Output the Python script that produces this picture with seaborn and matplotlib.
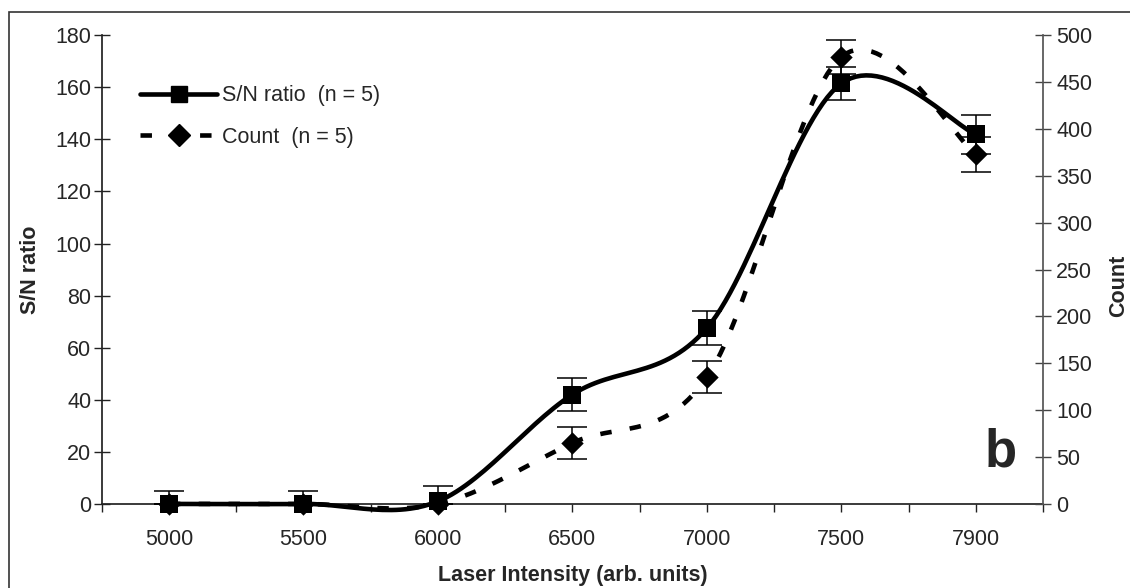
import numpy as np
import pandas as pd
import seaborn as sns
import matplotlib.pyplot as plt
from matplotlib.lines import Line2D
from matplotlib.patches import Rectangle

# valeurs
intensity = ["5000", "5500", "6000", "6500", "7000", "7500", "7900"]
sn_ratio = [0, 0, 1, 42, 67.5, 161.5, 142]
sn_err = [5, 5, 6, 6.5, 6.5, 6.3, 7.5]
count = [0, 0, 0, 65, 135, 477, 373]
count_err = [0, 0, 0, 17, 17, 18, 19]


def smooth(y, n=30):
    # courbe lissée (bezier) comme les "smoothed lines" d'Excel
    y = np.asarray(y, float)
    x = np.arange(len(y), dtype=float)
    pts = np.column_stack([x, y])
    out = []
    for i in range(len(y) - 1):
        i0 = max(i - 1, 0)
        i3 = min(i + 2, len(y) - 1)
        p0, p3 = pts[i], pts[i + 1]
        p1 = p0 + (pts[i + 1] - pts[i0]) / 6
        p2 = p3 - (pts[i3] - pts[i]) / 6
        t = np.linspace(0, 1, n)[:, None]
        out.append((1 - t) ** 3 * p0 + 3 * (1 - t) ** 2 * t * p1
                   + 3 * (1 - t) * t ** 2 * p2 + t ** 3 * p3)
    out = np.vstack(out)
    return out[:, 0], out[:, 1]


df = pd.DataFrame({"pos": np.arange(len(intensity)), "sn": sn_ratio, "count": count})

sns.set_theme(style="ticks")
plt.rcParams["font.family"] = ["Liberation Sans", "DejaVu Sans"]

fig = plt.figure(figsize=(11.3, 5.88), dpi=100)
ax = fig.add_axes([0.090, 0.143, 0.833, 0.797])
ax2 = ax.twinx()

# S/N ratio (axe gauche)
xs, ys = smooth(sn_ratio)
ax.plot(xs, ys, color="black", lw=3.3, clip_on=False, zorder=3)
ax.errorbar(df["pos"], df["sn"], yerr=sn_err, fmt="none", ecolor="black",
            elinewidth=1.1, capsize=11, capthick=1.1, zorder=4)
sns.scatterplot(data=df, x="pos", y="sn", marker="s", s=150, color="black",
                edgecolor="black", linewidth=0, ax=ax, zorder=5, clip_on=False)

# Count (axe droit)
xc, yc = smooth(count)
ax2.plot(xc, yc, color="black", lw=3.3, linestyle=(0, (2.5, 4)), clip_on=False, zorder=3)
ax2.errorbar(df["pos"], df["count"], yerr=count_err, fmt="none", ecolor="black",
             elinewidth=1.1, capsize=11, capthick=1.1, zorder=4)
sns.scatterplot(data=df, x="pos", y="count", marker="D", s=130, color="black",
                edgecolor="black", linewidth=0, ax=ax2, zorder=5, clip_on=False)

ax.set_xlim(-0.5, len(intensity) - 0.5)
ax.set_ylim(0, 180)
ax2.set_ylim(0, 500)
ax.set_yticks(np.arange(0, 181, 20))
ax2.set_yticks(np.arange(0, 501, 50))
ax.set_xticks(df["pos"])
ax.set_xticklabels(intensity)
ax.set_xticks(np.arange(-0.5, len(intensity), 1.0), minor=True)

ax.tick_params(axis="y", direction="inout", length=11, width=1, labelsize=15.5, pad=2, color="#222")
ax2.tick_params(axis="y", direction="inout", length=11, width=1, labelsize=15.5, pad=4, color="#444")
ax.tick_params(axis="x", which="both", direction="out", length=6, width=1, labelsize=15.5, pad=12, color="#222")

for a in (ax, ax2):
    a.spines["top"].set_visible(False)
ax.spines["right"].set_visible(False)
ax2.spines["left"].set_visible(False)
ax2.spines["bottom"].set_visible(False)
ax.spines["left"].set_color("#222")
ax.spines["bottom"].set_color("#222")
ax2.spines["right"].set_color("#555")

ax.set_xlabel("Laser Intensity (arb. units)", fontsize=15.5, fontweight="bold", labelpad=11)
ax.set_ylabel("S/N ratio", fontsize=15.5, fontweight="bold", labelpad=10)
ax2.set_ylabel("Count", fontsize=15.5, fontweight="bold")
ax2.yaxis.set_label_coords(1.069, 0.465)
ax.grid(False)
ax2.grid(False)

ax.text(0.955, 0.11, "b", transform=ax.transAxes, fontsize=38, fontweight="bold",
        ha="center", va="center")

handles = [
    Line2D([], [], color="black", lw=3.3, marker="s", markersize=12),
    Line2D([], [], color="black", lw=3.3, linestyle=(0, (2.5, 4)), marker="D", markersize=11),
]
ax2.legend(handles, ["S/N ratio  (n = 5)", "Count  (n = 5)"], loc="upper left",
           bbox_to_anchor=(0.02, 0.935), frameon=False, fontsize=15.5,
           handlelength=3.6, handletextpad=0.2, labelspacing=0.95)

# cadre autour de la figure
fig.patches.append(Rectangle((0.008, -0.01), 1.0, 0.99, transform=fig.transFigure,
                             fill=False, edgecolor="#333", lw=1.2))

fig.savefig("out.png", dpi=100)
